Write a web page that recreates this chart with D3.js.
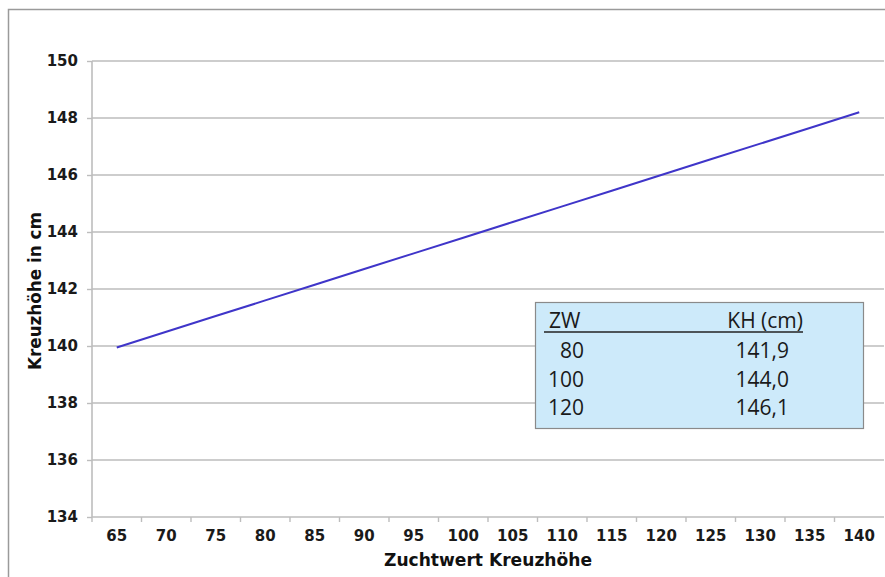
<!DOCTYPE html>
<html>
<head>
<meta charset="utf-8">
<script src="https://cdn.jsdelivr.net/npm/d3@7"></script>
<style>
  html, body { margin: 0; padding: 0; background: #fff; }
  svg { display: block; }
</style>
</head>
<body>
<svg id="chart" width="885" height="577"></svg>
<script>
// ---- data ----
const zuchtwerte = [65, 70, 75, 80, 85, 90, 95, 100, 105, 110, 115, 120, 125, 130, 135, 140];
const kreuzhoehe = [139.95, 140.5, 141.05, 141.6, 142.15, 142.7, 143.25, 143.8, 144.35, 144.9, 145.45, 146.0, 146.55, 147.1, 147.65, 148.2];
const yTicks = [134, 136, 138, 140, 142, 144, 146, 148, 150];
const tableHeader = ["ZW", "KH (cm)"];
const tableZW = ["80", "100", "120"];
const tableKH = ["141,9", "144,0", "146,1"];
const xTitle = "Zuchtwert Kreuzhöhe";
const yTitle = "Kreuzhöhe in cm";

(function () {
const svg = d3.select("#chart");
const mLeft = 92, mRight = 884, mTop = 61, mBottom = 517;
const gridColor = "#bdbdbd";
const boldFont = "'DejaVu Sans', Verdana, sans-serif";

// outer frame (top and left edges visible)
svg.append("path")
  .attr("d", "M8.5,577 L8.5,9.5 L885,9.5")
  .attr("fill", "none").attr("stroke", "#9a9a9a").attr("stroke-width", 1.5);

const x = d3.scaleBand().domain(zuchtwerte).range([mLeft, mRight]).padding(0);
const y = d3.scaleLinear().domain([134, 150]).range([mBottom, mTop]);

// gridlines
svg.append("g").selectAll("line").data(yTicks.filter(d => d !== 134)).join("line")
  .attr("x1", mLeft).attr("x2", mRight)
  .attr("y1", d => y(d)).attr("y2", d => y(d))
  .attr("stroke", gridColor).attr("stroke-width", 1.6);

// y axis
const yAxis = svg.append("g").attr("transform", `translate(${mLeft},0)`)
  .call(d3.axisLeft(y).tickValues(yTicks).tickSize(5).tickPadding(9).tickFormat(d3.format("d")));
yAxis.select(".domain").attr("stroke", gridColor).attr("stroke-width", 1.6)
  .attr("d", `M0,${mTop}V${mBottom}`);
yAxis.selectAll(".tick line").attr("stroke", gridColor).attr("stroke-width", 1.4);
yAxis.selectAll(".tick text")
  .attr("font-family", boldFont).attr("font-weight", "bold")
  .attr("font-size", 15).attr("fill", "#1a1a1a");

// x axis
const xAxis = svg.append("g").attr("transform", `translate(0,${mBottom})`)
  .call(d3.axisBottom(x).tickSize(0).tickPadding(13));
xAxis.select(".domain").attr("stroke", gridColor).attr("stroke-width", 1.6)
  .attr("d", `M${mLeft},0H${mRight}`);
xAxis.selectAll(".tick text")
  .attr("font-family", boldFont).attr("font-weight", "bold")
  .attr("font-size", 15).attr("fill", "#1a1a1a");
// band-boundary ticks
svg.append("g").selectAll("line").data(zuchtwerte).join("line")
  .attr("x1", d => x(d)).attr("x2", d => x(d))
  .attr("y1", mBottom).attr("y2", mBottom + 5)
  .attr("stroke", gridColor).attr("stroke-width", 1.4);

// axis titles
svg.append("text")
  .attr("x", 384).attr("y", 566)
  .attr("textLength", 208).attr("lengthAdjust", "spacingAndGlyphs")
  .attr("font-family", boldFont).attr("font-weight", "bold")
  .attr("font-size", 17).attr("fill", "#111")
  .text(xTitle);
svg.append("text")
  .attr("transform", "translate(41,291) rotate(-90)")
  .attr("text-anchor", "middle")
  .attr("textLength", 158).attr("lengthAdjust", "spacingAndGlyphs")
  .attr("font-family", boldFont).attr("font-weight", "bold")
  .attr("font-size", 17).attr("fill", "#111")
  .text(yTitle);

// line
const line = d3.line()
  .x((d, i) => x(zuchtwerte[i]) + x.bandwidth() / 2)
  .y(d => y(d));
svg.append("path").datum(kreuzhoehe)
  .attr("d", line)
  .attr("fill", "none").attr("stroke", "#3f35c9").attr("stroke-width", 2);

// table box
const tb = svg.append("g");
tb.append("rect")
  .attr("x", 535.5).attr("y", 302.5).attr("width", 328).attr("height", 126)
  .attr("fill", "#cdeafa").attr("stroke", "#8a8a8a").attr("stroke-width", 1.2);
const tFont = "'Open Sans', 'Noto Sans', sans-serif";
tb.append("text").attr("x", 549).attr("y", 328)
  .attr("font-family", tFont).attr("font-size", 21).attr("fill", "#1a1a1a")
  .text(tableHeader[0]);
tb.append("text").attr("x", 803).attr("y", 328).attr("text-anchor", "end")
  .attr("font-family", tFont).attr("font-size", 21).attr("fill", "#1a1a1a")
  .text(tableHeader[1]);
tb.append("line").attr("x1", 544).attr("x2", 803).attr("y1", 332).attr("y2", 332)
  .attr("stroke", "#222").attr("stroke-width", 1.6);
const rowY = d3.scalePoint().domain(tableZW).range([358, 415]);
tb.selectAll("text.zw").data(tableZW).join("text").attr("class", "zw")
  .attr("x", 584).attr("y", d => rowY(d)).attr("text-anchor", "end")
  .attr("font-family", tFont).attr("font-size", 21).attr("fill", "#1a1a1a")
  .text(d => d);
tb.selectAll("text.kh").data(tableKH).join("text").attr("class", "kh")
  .attr("x", 789).attr("y", (d, i) => rowY(tableZW[i])).attr("text-anchor", "end")
  .attr("font-family", tFont).attr("font-size", 21).attr("fill", "#1a1a1a")
  .text(d => d);
})();
</script>
</body>
</html>
